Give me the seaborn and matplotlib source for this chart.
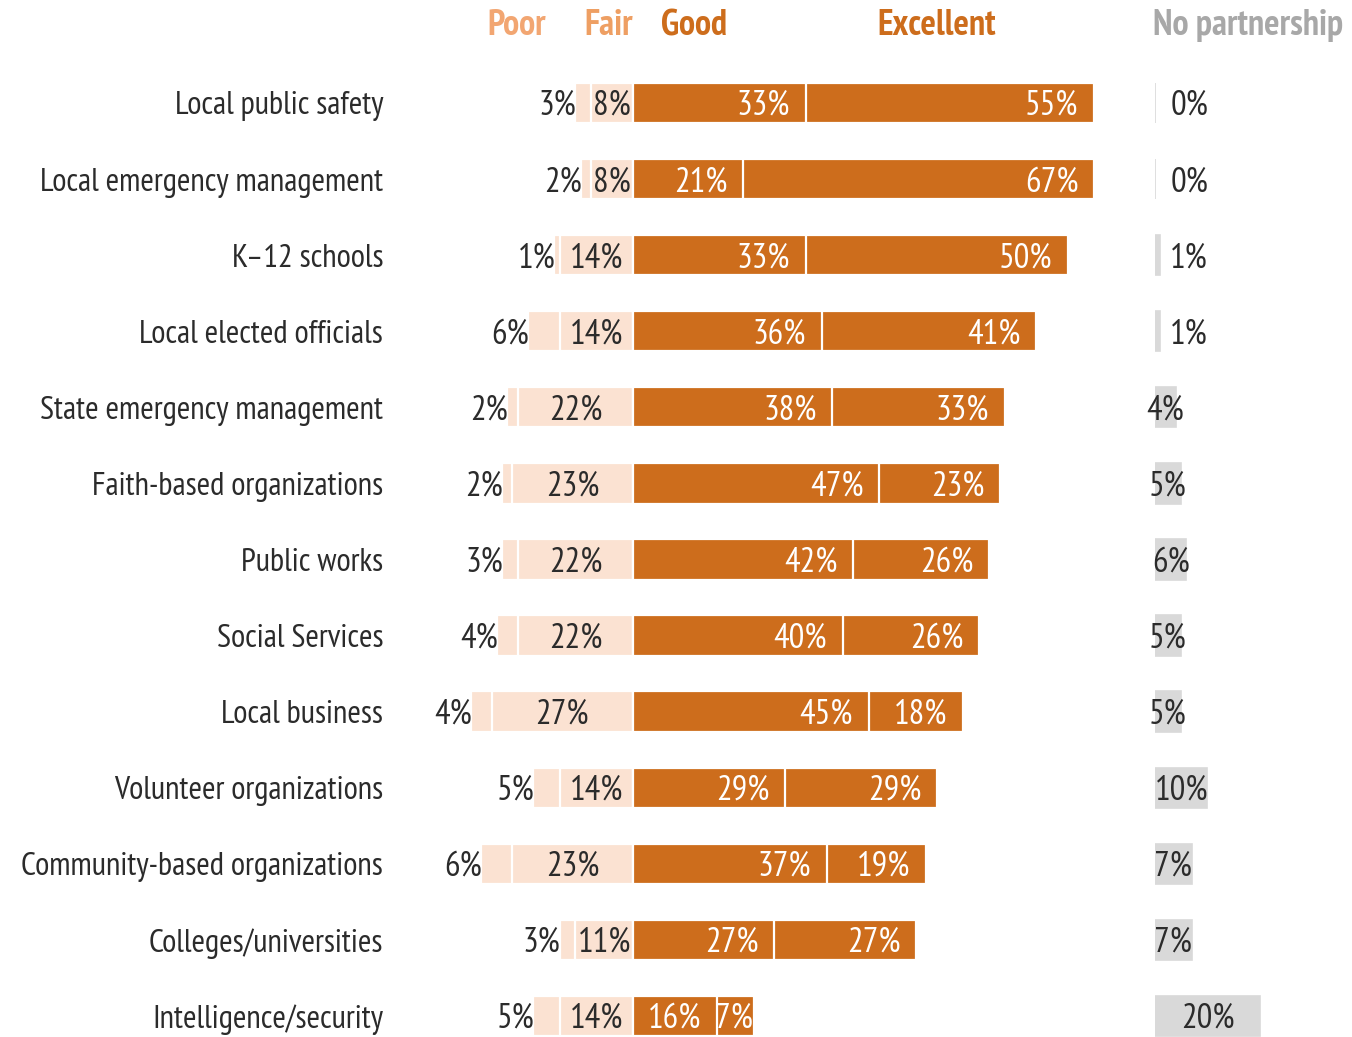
import numpy as np
import pandas as pd
import matplotlib
matplotlib.use("Agg")
import matplotlib.pyplot as plt
from matplotlib import font_manager
import seaborn as sns

# ---------------- data ----------------
organizations = [
    "Local public safety",
    "Local emergency management",
    "K\u201312 schools",
    "Local elected officials",
    "State emergency management",
    "Faith-based organizations",
    "Public works",
    "Social Services",
    "Local business",
    "Volunteer organizations",
    "Community-based organizations",
    "Colleges/universities",
    "Intelligence/security",
]
poor = [3, 2, 1, 6, 2, 2, 3, 4, 4, 5, 6, 3, 5]
fair = [8, 8, 14, 14, 22, 23, 22, 22, 27, 14, 23, 11, 14]
good = [33, 21, 33, 36, 38, 47, 42, 40, 45, 29, 37, 27, 16]
excellent = [55, 67, 50, 41, 33, 23, 26, 26, 18, 29, 19, 27, 7]
no_partnership = [0, 0, 1, 1, 4, 5, 6, 5, 5, 10, 7, 7, 20]
header_labels = ["Poor", "Fair", "Good", "Excellent", "No partnership"]

df = pd.DataFrame({
    "org": organizations,
    "poor": poor,
    "fair": fair,
    "good": good,
    "excellent": excellent,
    "none": no_partnership,
})
df["left_total"] = -(df["poor"] + df["fair"])
df["left_fair"] = -df["fair"]
df["right_total"] = df["good"] + df["excellent"]

# ---------------- style ----------------
sns.set_theme(style="white")
installed = {f.name for f in font_manager.fontManager.ttflist}
family = "DejaVu Sans"
for cand in ["PT Sans Narrow", "Roboto Condensed", "Fira Sans Condensed",
             "Barlow Condensed", "Asap Condensed"]:
    if cand in installed:
        family = cand
        break
plt.rcParams["font.family"] = [family, "DejaVu Sans"]

DARK = "#CD6D1C"
LIGHT = "#FBE2D2"
GRAY = "#D9D9D9"
TXT = "#2B2B2B"
FS_LAB = 23.5   # row labels
FS = 25         # value labels
HFS = 26        # column headers

W, H = 1352, 1037
PX = 5.24          # pixels per percentage point
ZERO = 633         # pixel x of the zero line
ROW0, ROWSTEP = 103, 76.08
fig = plt.figure(figsize=(W / 100, H / 100), dpi=100)

ax_left_px, ax_right_px = 395, 1140
ax = fig.add_axes([ax_left_px / W, 0, (ax_right_px - ax_left_px) / W, 1])
ax2 = fig.add_axes([1155 / W, 0, (W - 1155) / W, 1])

bw = 0.53
common = dict(y="org", orient="h", saturation=1, width=bw, errorbar=None,
              edgecolor="white", linewidth=1.6)
sns.barplot(data=df, x="left_total", color=LIGHT, ax=ax, **common)
sns.barplot(data=df, x="left_fair", color=LIGHT, ax=ax, **common)
sns.barplot(data=df, x="right_total", color=DARK, ax=ax, **common)
sns.barplot(data=df, x="good", color=DARK, ax=ax, **common)

sns.barplot(data=df, x="none", y="org", orient="h", saturation=1, width=bw,
            errorbar=None, color=GRAY, edgecolor=GRAY, linewidth=1.2, ax=ax2)

ylim = ((H - ROW0) / ROWSTEP, -ROW0 / ROWSTEP)
for a in (ax, ax2):
    a.set_ylim(*ylim)
    a.set_xlabel("")
    a.set_ylabel("")
    a.set_xticks([])
    for s in a.spines.values():
        s.set_visible(False)

ax.set_xlim((ax_left_px - ZERO) / PX, (ax_right_px - ZERO) / PX)
ax2.set_xlim(0, (W - 1155) / PX)
ax2.set_yticks([])

ax.tick_params(axis="y", length=0, pad=8.5, labelsize=FS_LAB, labelcolor=TXT)

# ---------------- value labels ----------------
dy = 12.0 / ROWSTEP   # baseline offset below the bar centre
for i, r in df.iterrows():
    p, f, g, e, n = r["poor"], r["fair"], r["good"], r["excellent"], r["none"]
    yb = i + dy
    ax.text(-(p + f) + 0.2, yb, f"{p}%", ha="right", va="baseline", color=TXT, fontsize=FS)
    ax.text(-f / 2, yb, f"{f}%", ha="center", va="baseline", color=TXT, fontsize=FS)
    ax.text(g - (3.0 if g > 10 else 0.3), yb, f"{g}%", ha="right", va="baseline",
            color="white", fontsize=FS)
    ax.text(g + e - (3.0 if e > 10 else 0.2), yb, f"{e}%", ha="right", va="baseline",
            color="white", fontsize=FS)
    if n < 2:
        ax2.text(2.9, yb, f"{n}%", ha="left", va="baseline", color=TXT, fontsize=FS)
    else:
        ax2.text(n / 2, yb, f"{n}%", ha="center", va="baseline", color=TXT, fontsize=FS)

# ---------------- headers ----------------
hy = (26 - ROW0) / ROWSTEP
header_x = [(517 - ZERO) / PX, (609 - ZERO) / PX, (694 - ZERO) / PX, (937 - ZERO) / PX]
header_colors = ["#F2A672", "#EE9F63", DARK, DARK]
for lab, x, c in zip(header_labels[:4], header_x, header_colors):
    ax.text(x, hy, lab, ha="center", va="center", color=c, fontsize=HFS,
            fontweight="bold", clip_on=False)
ax2.text(-0.4, hy, header_labels[4], ha="left", va="center", color="#A8A8A8",
         fontsize=HFS, fontweight="bold", clip_on=False)

fig.savefig("out.png", dpi=100)
